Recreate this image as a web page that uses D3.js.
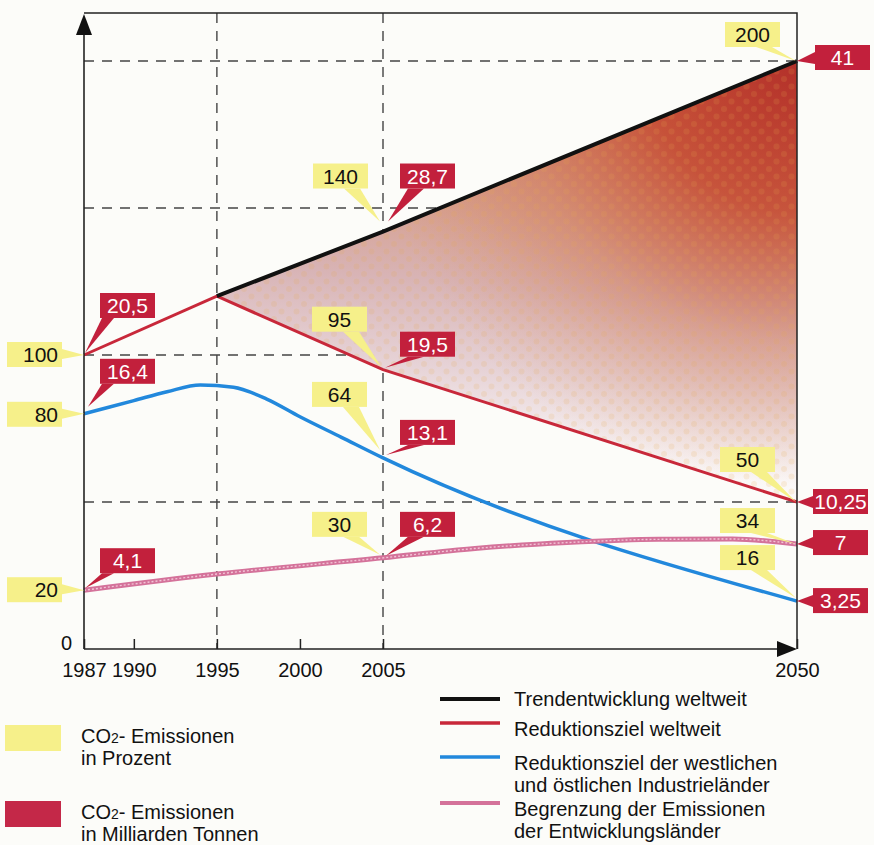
<!DOCTYPE html>
<html>
<head>
<meta charset="utf-8">
<script src="https://cdn.jsdelivr.net/npm/d3@7"></script>
<style>
  body { margin: 0; background: #fcfcf9; }
  svg { display: block; font-family: "Liberation Sans", Arial, sans-serif; }
</style>
</head>
<body>
<svg width="874" height="845"></svg>
<script>
// values (percent of 1987 emissions)
const trendYears = [1995, 2005, 2050]
const trendValues = [120, 142, 200]
const reductionYears = [1987, 1995, 2005, 2050]
const reductionValues = [100, 120, 95, 50]
const industrialYears = [1987, 1990, 1992, 1994, 1996, 1998, 2000, 2002.5, 2005, 2050]
const industrialValues = [80, 84.5, 87.5, 89.8, 89, 85, 79, 72, 65, 16.3]
const developingYears = [1987, 1995, 2005, 2015, 2025, 2035, 2043, 2050]
const developingValues = [20, 25.5, 31, 34.2, 36.2, 37.3, 37.4, 35.7]

const tickYears = [1987, 1990, 1995, 2000, 2005, 2050]
const gridYears = [1995, 2005]
const gridValues = [50, 100, 150, 200]

// callouts: series, year, percent label, billion tonnes label
const annSeries = ["trend", "trend", "reduction", "reduction", "reduction", "industrial", "industrial", "industrial", "developing", "developing", "developing"]
const annYears = [2005, 2050, 1987, 2005, 2050, 1987, 2005, 2050, 1987, 2005, 2050]
const annPercent = ["140", "200", "100", "95", "50", "80", "64", "16", "20", "30", "34"]
const annTonnes = ["28,7", "41", "20,5", "19,5", "10,25", "16,4", "13,1", "3,25", "4,1", "6,2", "7"]

const legendUnits = ["in Prozent", "in Milliarden Tonnen"]
const legendLines = [
  ["Trendentwicklung weltweit"],
  ["Reduktionsziel weltweit"],
  ["Reduktionsziel der westlichen", "und östlichen Industrieländer"],
  ["Begrenzung der Emissionen", "der Entwicklungsländer"]
]

// ---- layout ----
const yellow = "#f6f08a"
const red = "#c2203c"
const colRed = "#c8283a", colBlue = "#2288dc", colPink = "#d4729a"

// box offsets relative to the data point: [yellow dx, dy, red dx, dy, yellow tip dx, dy, red tip dx, dy]
const boxOffsets = [
  [-70, -68, 17, -68, -3, -10, 5, -10],
  [-72, -39, 18, -16, -1, 0, 0, 0],
  [-77, -13, 16, -62, 0, 0, 1, -2],
  [-71, -63, 17, -38, -2, -3, 2, -2],
  [-77, -55, 16, -13, -1, 0, 0, 0],
  [-77, -12, 16, -55, 0, 0, 4, -7],
  [-71, -76, 17, -38, -3, -8, 3, -3],
  [-77, -56, 16, -13, -1, -3, 0, 0],
  [-77, -13, 16, -42, 0, 0, 1, -2],
  [-71, -46, 17, -46, -3, -3, 3, -2],
  [-77, -36, 16, -14, -1, 0, 0, 0]
]
const boxW = 55, boxH = 25

const svg = d3.select("svg")

const x = d3.scaleLinear().domain([1987, 2005, 2050]).range([84, 383, 797])
const y = d3.scaleLinear().domain([0, 200]).range([649, 61])

const series = {
  trend: d3.zip(trendYears, trendValues),
  reduction: d3.zip(reductionYears, reductionValues),
  industrial: d3.zip(industrialYears, industrialValues),
  developing: d3.zip(developingYears, developingValues)
}

// fill between trend and target: pinkish base fading down, red glow from the top right
const defs = svg.append("defs")
const base = defs.append("linearGradient")
  .attr("id", "gapBase")
  .attr("gradientUnits", "userSpaceOnUse")
  .attr("x1", x(2050)).attr("y1", y(200))
  .attr("x2", x(2050) - 30).attr("y2", y(50) - 20)
const baseStops = [[0, "#cf7058"], [0.4, "#d6a090"], [0.58, "#d8b4b6"], [0.78, "#e6d2d6"], [1, "#fbf9f9"]]
baseStops.forEach(s => base.append("stop").attr("offset", s[0]).attr("stop-color", s[1]))

const glow = defs.append("radialGradient")
  .attr("id", "gapGlow")
  .attr("gradientUnits", "userSpaceOnUse")
  .attr("cx", x(2050)).attr("cy", y(200)).attr("r", 430)
const glowStops = [[0, "#b3302a", 1], [0.35, "#c4482f", 0.85], [0.65, "#d0704a", 0.4], [1, "#d88a60", 0]]
glowStops.forEach(s => glow.append("stop").attr("offset", s[0]).attr("stop-color", s[1]).attr("stop-opacity", s[2]))

const dots = defs.append("pattern")
  .attr("id", "gapDots")
  .attr("patternUnits", "userSpaceOnUse")
  .attr("width", 15).attr("height", 15)
dots.append("circle").attr("cx", 4).attr("cy", 4).attr("r", 3).attr("fill", "#e8a648").attr("opacity", 0.16)
dots.append("circle").attr("cx", 11.5).attr("cy", 11.5).attr("r", 3).attr("fill", "#e8a648").attr("opacity", 0.16)

// grid
svg.append("g").selectAll("line").data(gridValues).enter().append("line")
  .attr("x1", x(1987)).attr("x2", x(2050))
  .attr("y1", d => y(d)).attr("y2", d => y(d))
  .attr("stroke", "#444").attr("stroke-width", 1.4).attr("stroke-dasharray", "10,8")
svg.append("g").selectAll("line").data(gridYears).enter().append("line")
  .attr("x1", d => x(d)).attr("x2", d => x(d))
  .attr("y1", 13).attr("y2", y(0))
  .attr("stroke", "#444").attr("stroke-width", 1.4).attr("stroke-dasharray", "10,8")

// filled gap
const poly = series.trend.concat(series.reduction.filter(d => d[0] >= 1995).reverse())
const polyPath = d3.line().x(d => x(d[0])).y(d => y(d[1]))(poly) + "Z"
svg.append("path").attr("d", polyPath).attr("fill", "url(#gapBase)")
svg.append("path").attr("d", polyPath).attr("fill", "url(#gapGlow)")
svg.append("path").attr("d", polyPath).attr("fill", "url(#gapDots)")

const line = d3.line().x(d => x(d[0])).y(d => y(d[1]))
const smooth = d3.line().x(d => x(d[0])).y(d => y(d[1])).curve(d3.curveMonotoneX)

svg.append("path").attr("d", smooth(series.industrial))
  .attr("fill", "none").attr("stroke", colBlue).attr("stroke-width", 3.5)
svg.append("path").attr("d", smooth(series.developing))
  .attr("fill", "none").attr("stroke", colPink).attr("stroke-width", 5)
svg.append("path").attr("d", smooth(series.developing))
  .attr("fill", "none").attr("stroke", "#f2c4d6").attr("stroke-width", 1.4).attr("stroke-dasharray", "2,2")
svg.append("path").attr("d", line(series.reduction))
  .attr("fill", "none").attr("stroke", colRed).attr("stroke-width", 3)
svg.append("path").attr("d", line(series.trend))
  .attr("fill", "none").attr("stroke", "#111").attr("stroke-width", 4)

// frame and axes
svg.append("path")
  .attr("d", `M${x(1987)},13H${x(2050)}V${y(0)}`)
  .attr("fill", "none").attr("stroke", "#222").attr("stroke-width", 1.5)
svg.append("line").attr("x1", x(1987)).attr("x2", x(1987)).attr("y1", y(0)).attr("y2", 30)
  .attr("stroke", "#222").attr("stroke-width", 1.6)
svg.append("line").attr("x1", x(1987)).attr("x2", x(2050) - 16).attr("y1", y(0)).attr("y2", y(0))
  .attr("stroke", "#222").attr("stroke-width", 1.6)
svg.append("path").attr("d", `M${x(1987)},14l-8,21h16z`).attr("fill", "#111")
svg.append("path").attr("d", `M${x(2050)},${y(0)}l-20,-8v16z`).attr("fill", "#111")

const xAxis = svg.append("g")
  .attr("transform", `translate(0,${y(0)})`)
  .call(d3.axisBottom(x).tickValues(tickYears).tickFormat(d3.format("d")).tickSize(-10).tickPadding(14))
xAxis.select(".domain").remove()
xAxis.selectAll(".tick line").attr("stroke", "#222").attr("stroke-width", 1.5)
xAxis.selectAll("text").attr("font-size", 20).attr("fill", "#111").attr("font-family", null)

const yAxis = svg.append("g")
  .attr("transform", `translate(${x(1987)},0)`)
  .call(d3.axisLeft(y).tickValues([0]).tickSize(0).tickPadding(12))
yAxis.select(".domain").remove()
yAxis.selectAll("text").attr("font-size", 20).attr("fill", "#111").attr("dy", "0em").attr("font-family", null)

// callouts
const side = yr => yr === 1987 ? "left" : (yr === 2050 ? "right" : "mid")

annYears.forEach((yr, i) => {
  const pts = series[annSeries[i]]
  const pt = pts.find(d => d[0] === yr)
  const ax = x(pt[0]), ay = y(pt[1])
  const o = boxOffsets[i]
  const s = side(yr)

  // percent box (yellow)
  let bx = ax + o[0], by = ay + o[1]
  let tx = ax + o[4], ty = ay + o[5]
  let foot
  if (s === "left") foot = [[bx + boxW, by + 7], [bx + boxW, by + 17]]
  else foot = [[bx + boxW - 24, by + boxH], [bx + boxW - 8, by + boxH]]
  const g1 = svg.append("g")
  g1.append("path").attr("d", `M${foot[0]}L${tx},${ty}L${foot[1]}Z`).attr("fill", yellow)
  g1.append("rect").attr("x", bx).attr("y", by).attr("width", boxW).attr("height", boxH).attr("fill", yellow)
  g1.append("text")
    .attr("x", s === "left" ? bx + boxW - 4 : bx + boxW / 2)
    .attr("y", by + boxH / 2 + 7.5)
    .attr("text-anchor", s === "left" ? "end" : "middle")
    .attr("font-size", 21).attr("fill", "#111")
    .text(annPercent[i])

  // tonnes box (red)
  bx = ax + o[2]; by = ay + o[3]
  tx = ax + o[6]; ty = ay + o[7]
  if (s === "right") foot = [[bx, by + 7], [bx, by + 19]]
  else if (s === "left") foot = [[bx + 2, by + boxH], [bx + 14, by + boxH]]
  else foot = [[bx + 8, by + boxH], [bx + 24, by + boxH]]
  const g2 = svg.append("g")
  g2.append("path").attr("d", `M${foot[0]}L${tx},${ty}L${foot[1]}Z`).attr("fill", red)
  g2.append("rect").attr("x", bx).attr("y", by).attr("width", boxW).attr("height", boxH).attr("fill", red)
  g2.append("text")
    .attr("x", bx + boxW / 2)
    .attr("y", by + boxH / 2 + 7.5)
    .attr("text-anchor", "middle")
    .attr("font-size", 21).attr("fill", "#fff")
    .text(annTonnes[i])
})

// legend: units
const unitColors = [yellow, "#c42848"]
const unitTop = [725, 801]
legendUnits.forEach((u, i) => {
  const top = unitTop[i]
  svg.append("rect").attr("x", 5).attr("y", top).attr("width", 56).attr("height", 26).attr("fill", unitColors[i])
  const t = svg.append("text").attr("x", 81).attr("y", top + 18).attr("font-size", 20).attr("fill", "#111")
  t.append("tspan").text("CO")
  t.append("tspan").attr("font-size", 14).text("2")
  t.append("tspan").text("- Emissionen")
  svg.append("text").attr("x", 81).attr("y", top + 40).attr("font-size", 20).attr("fill", "#111").text(u)
})

// legend: lines
const lineColors = ["#111", colRed, colBlue, colPink]
const lineWidths = [4, 3.5, 3.5, 4]
const lineY = [699, 723, 757, 803]
legendLines.forEach((rows, i) => {
  svg.append("line").attr("x1", 440).attr("x2", 500).attr("y1", lineY[i]).attr("y2", lineY[i])
    .attr("stroke", lineColors[i]).attr("stroke-width", lineWidths[i])
  rows.forEach((r, j) => {
    svg.append("text").attr("x", 514).attr("y", lineY[i] + 7 + (i > 0 ? 6 : 0) + j * 22)
      .attr("font-size", 20).attr("fill", "#111").text(r)
  })
})
</script>
</body>
</html>
